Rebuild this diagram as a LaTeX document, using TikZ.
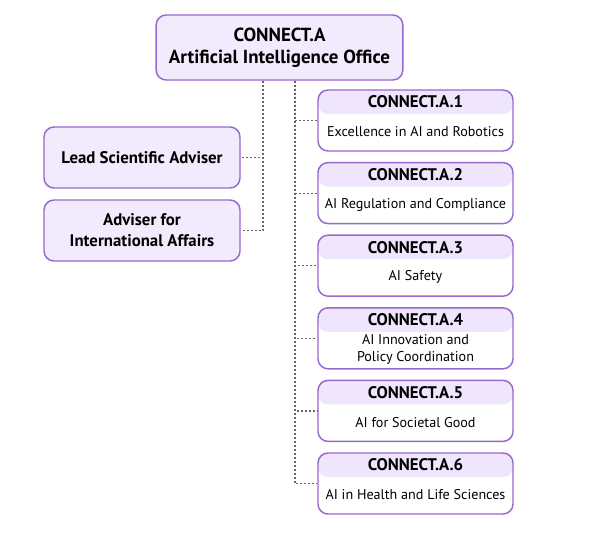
\documentclass[tikz,border=0pt]{standalone}
\usepackage{fontspec}
\setmainfont{PT Sans}
\usetikzlibrary{positioning}

\definecolor{boxline}{RGB}{150,105,205}
\definecolor{boxfill}{RGB}{242,234,253}
\definecolor{headfill}{RGB}{239,229,252}
\definecolor{linkgray}{RGB}{100,100,105}

\tikzset{
  office/.style={draw=boxline, line width=1.1pt, fill=boxfill, rounded corners=7.5pt,
    minimum width=185pt, minimum height=48.75pt, align=center, font=\bfseries\fontsize{14.2}{16.5}\selectfont},
  adviser/.style={draw=boxline, line width=1.1pt, fill=boxfill, rounded corners=7.5pt,
    minimum width=147pt, minimum height=45.75pt, align=center, font=\bfseries\fontsize{12.6}{15.75}\selectfont},
  unitbox/.style={draw=boxline, line width=1.1pt, fill=white, rounded corners=7.5pt,
    minimum width=146.25pt, minimum height=45.75pt,
    path picture={\fill[headfill] (path picture bounding box.north west) rectangle
      ([yshift=-18pt]path picture bounding box.north east);}},
  unithead/.style={font=\bfseries\fontsize{12.6}{14}\selectfont, inner sep=0pt},
  unitbody/.style={font=\fontsize{10.6}{12.75}\selectfont, align=center, inner sep=0pt},
  link/.style={draw=linkgray, line width=0.9pt, dash pattern=on 1.5pt off 1.5pt},
}

\begin{document}
\begin{tikzpicture}[x=0.75pt, y=-0.75pt]
  \useasboundingbox (0,0) rectangle (592,539);

  % head of the office
  \node[office] (top) at (279.5,47.5) {CONNECT.A\\Artificial Intelligence Office};

  % advisers on the left
  \node[adviser] (lsa) at (142,157.5) {Lead Scientific Adviser};
  \node[adviser] (aia) at (142,230.5) {Adviser for\\International Affairs};

  % units on the right
  \foreach \i/\txt in {1/{Excellence in AI and Robotics},
                       2/{AI Regulation and Compliance},
                       3/{AI Safety},
                       4/{AI Innovation and\\Policy Coordination},
                       5/{AI for Societal Good},
                       6/{AI in Health and Life Sciences}} {
    \node[unitbox] (u\i) at (415.5,{120.5+72.6*(\i-1)}) {};
    \node[unithead] (h\i) at ([yshift=-9.5pt]u\i.north) {CONNECT.A.\i};
    \node[unitbody] (b\i) at ([yshift=-32pt]u\i.north) {\txt};
  }

  % dotted connectors
  \draw[link] ([xshift=-12.4pt]top.south) |- (lsa.east);
  \draw[link] ([xshift=-12.4pt]top.south) |- (aia.east);
  \foreach \i in {1,...,6}
    \draw[link] ([xshift=11.6pt]top.south) |- (u\i.west);
\end{tikzpicture}
\end{document}
